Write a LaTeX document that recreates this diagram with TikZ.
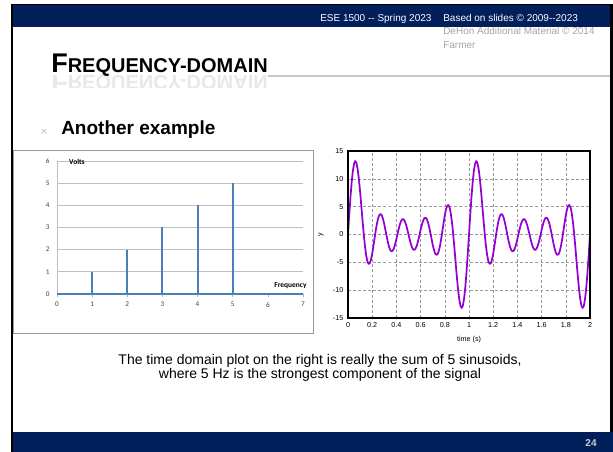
\documentclass[tikz,border=0pt]{standalone}
\usepackage{fontspec}
\setmainfont{Liberation Sans}
\newfontfamily\chartfont{Carlito}
\usetikzlibrary{positioning,calc,fadings}
\definecolor{pennblue}{RGB}{1,31,91}
\definecolor{stemblue}{RGB}{74,126,187}
\definecolor{wavepurple}{RGB}{148,0,211}
\tikzstyle{band}   = [fill=pennblue, draw=none]
\tikzstyle{stem}   = [stemblue, line width=1.5pt]
\tikzstyle{dgrid}  = [black!40, dashed, dash pattern=on 2.2pt off 1.6pt, line width=0.45pt]
\tikzstyle{wave}   = [wavepurple, line width=1.3pt, line join=round]

\begin{document}
\begin{tikzpicture}[x=0.75pt, y=-0.75pt,
		hdr/.style={font=\fontsize{7.5}{9}\selectfont, text=white, inner sep=0pt},
		credit/.style={font=\fontsize{7.5}{9}\selectfont, text=black!35, inner sep=0pt},
		heading/.style={anchor=base west, inner sep=0pt, font=\bfseries},
		ticklbl/.style={font=\chartfont\fontsize{5.4}{6}\selectfont, text=black!75, inner sep=1pt},
		axislbl/.style={font=\chartfont\bfseries\fontsize{5.6}{6}\selectfont, inner sep=0pt},
		wavelbl/.style={font=\fontsize{5.4}{6}\selectfont, inner sep=1.5pt},
	]
	\useasboundingbox (0,0) rectangle (613,452);
	\fill[white] (0,0) rectangle (613,452);

	\fill[black] (11,4) rectangle (613,452);
	\fill[white] (13,5) rectangle (610,452);
	\fill[band] (13,5) rectangle (610,27);
	\fill[band] (13,432) rectangle (613,452);

	\node[hdr, anchor=west] (course) at (320,19) {ESE 1500 {-}{-} Spring 2023};
	\node[hdr, anchor=west] (based) at (443,18) {Based on slides \textcopyright{} 2009{-}{-}2023};
	\node[credit, below=4pt of based.south west, anchor=north west] (dehon) {DeHon Additional Material \textcopyright{} 2014};
	\node[credit, below=4.5pt of dehon.south west, anchor=north west] (farmer) {Farmer};

	\node[heading] (title) at (51,73)
		{\fontsize{20.25}{22}\selectfont F\fontsize{15}{17}\selectfont REQUENCY-DOMAIN};
	\begin{scope}
		\clip (40,75) rectangle (290,88);
		\node[heading, yscale=-1, transform shape, opacity=.09] (mirror) at (51,76)
			{\fontsize{20.25}{22}\selectfont F\fontsize{15}{17}\selectfont REQUENCY-DOMAIN};
	\end{scope}
	\coordinate (ruleend) at (610,76);
	\draw[black!22, line width=0.9pt] (title.base east |- ruleend) -- (ruleend);

	\node[heading, font=\bfseries\fontsize{14.25}{16}\selectfont] (example) at (61,135) {Another example};
	\node[left=10pt of example, text=black!25, inner sep=0pt, font=\fontsize{8.5}{8}\selectfont, yshift=-1.5pt] (mark) {×};

	\draw[black!40, line width=0.6pt] (13,150) rectangle (313,333);
	\begin{scope}[shift={(57,294)}, xscale=35.14, yscale=-22.17]
		\foreach \v in {1,...,6}
			\draw[black!25, line width=0.5pt] (0,\v) -- (7,\v);
		\draw[black!25, line width=0.5pt] (0,0) -- (0,6);
		\foreach \v in {0,...,6}
			\node[ticklbl, anchor=east] (yl\v) at (-0.17,\v) {\v};
		\foreach \f in {0,...,7} {
			\draw[black!30, line width=0.5pt] (\f,0) -- (\f,-0.15);
			\node[ticklbl, anchor=north] (xl\f) at (\f,-0.3) {\f};
		}
		\foreach \f in {1,...,5}
			\draw[stem] (\f,0) -- (\f,\f);
		\draw[stem] (0,0) -- (7,0);
		\node[axislbl, anchor=west] (volts) at (0.34,5.95) {Volts};
		\node[axislbl, anchor=west] (freq) at (6.18,0.36) {Frequency};
	\end{scope}

	\begin{scope}[shift={(348,234.5)}, xscale=121, yscale=-5.567]
		\foreach \i in {1,...,9}
			\draw[dgrid] (\i/5,-15) -- (\i/5,15);
		\foreach \v in {-10,-5,0,5,10}
			\draw[dgrid] (0,\v) -- (2,\v);
		\draw[wave] plot[domain=0:2, samples=201, variable=\t]
			(\t, {sin(360*\t)+2*sin(720*\t)+3*sin(1080*\t)+4*sin(1440*\t)+5*sin(1800*\t)});
		\draw[black, line width=1.1pt] (0,-15) rectangle (2,15);
		\foreach \l [count=\i from 0] in {0,0.2,0.4,0.6,0.8,1,1.2,1.4,1.6,1.8,2}
			\node[wavelbl, anchor=north] (tl\i) at (\i/5,-15.4) {\l};
		\foreach \v [count=\i] in {-15,-10,-5,0,5,10,15}
			\node[wavelbl, anchor=east] (vl\i) at (-0.02,\v) {\v};
		\node[wavelbl, rotate=90] (ylbl) at (-0.223,0) {y};
		\node[wavelbl] (tlbl) at (1,-18.8) {time (s)};
	\end{scope}

	\node[align=center, inner sep=0pt, font=\fontsize{10.5}{10.5}\selectfont] (caption) at (320,368)
		{The time domain plot on the right is really the sum of 5 sinusoids,\\
		where 5 Hz is the strongest component of the signal};

	\node[text=black!20, inner sep=0pt, font=\bfseries\fontsize{7.5}{8}\selectfont] (page) at (591,443) {24};
\end{tikzpicture}
\end{document}
